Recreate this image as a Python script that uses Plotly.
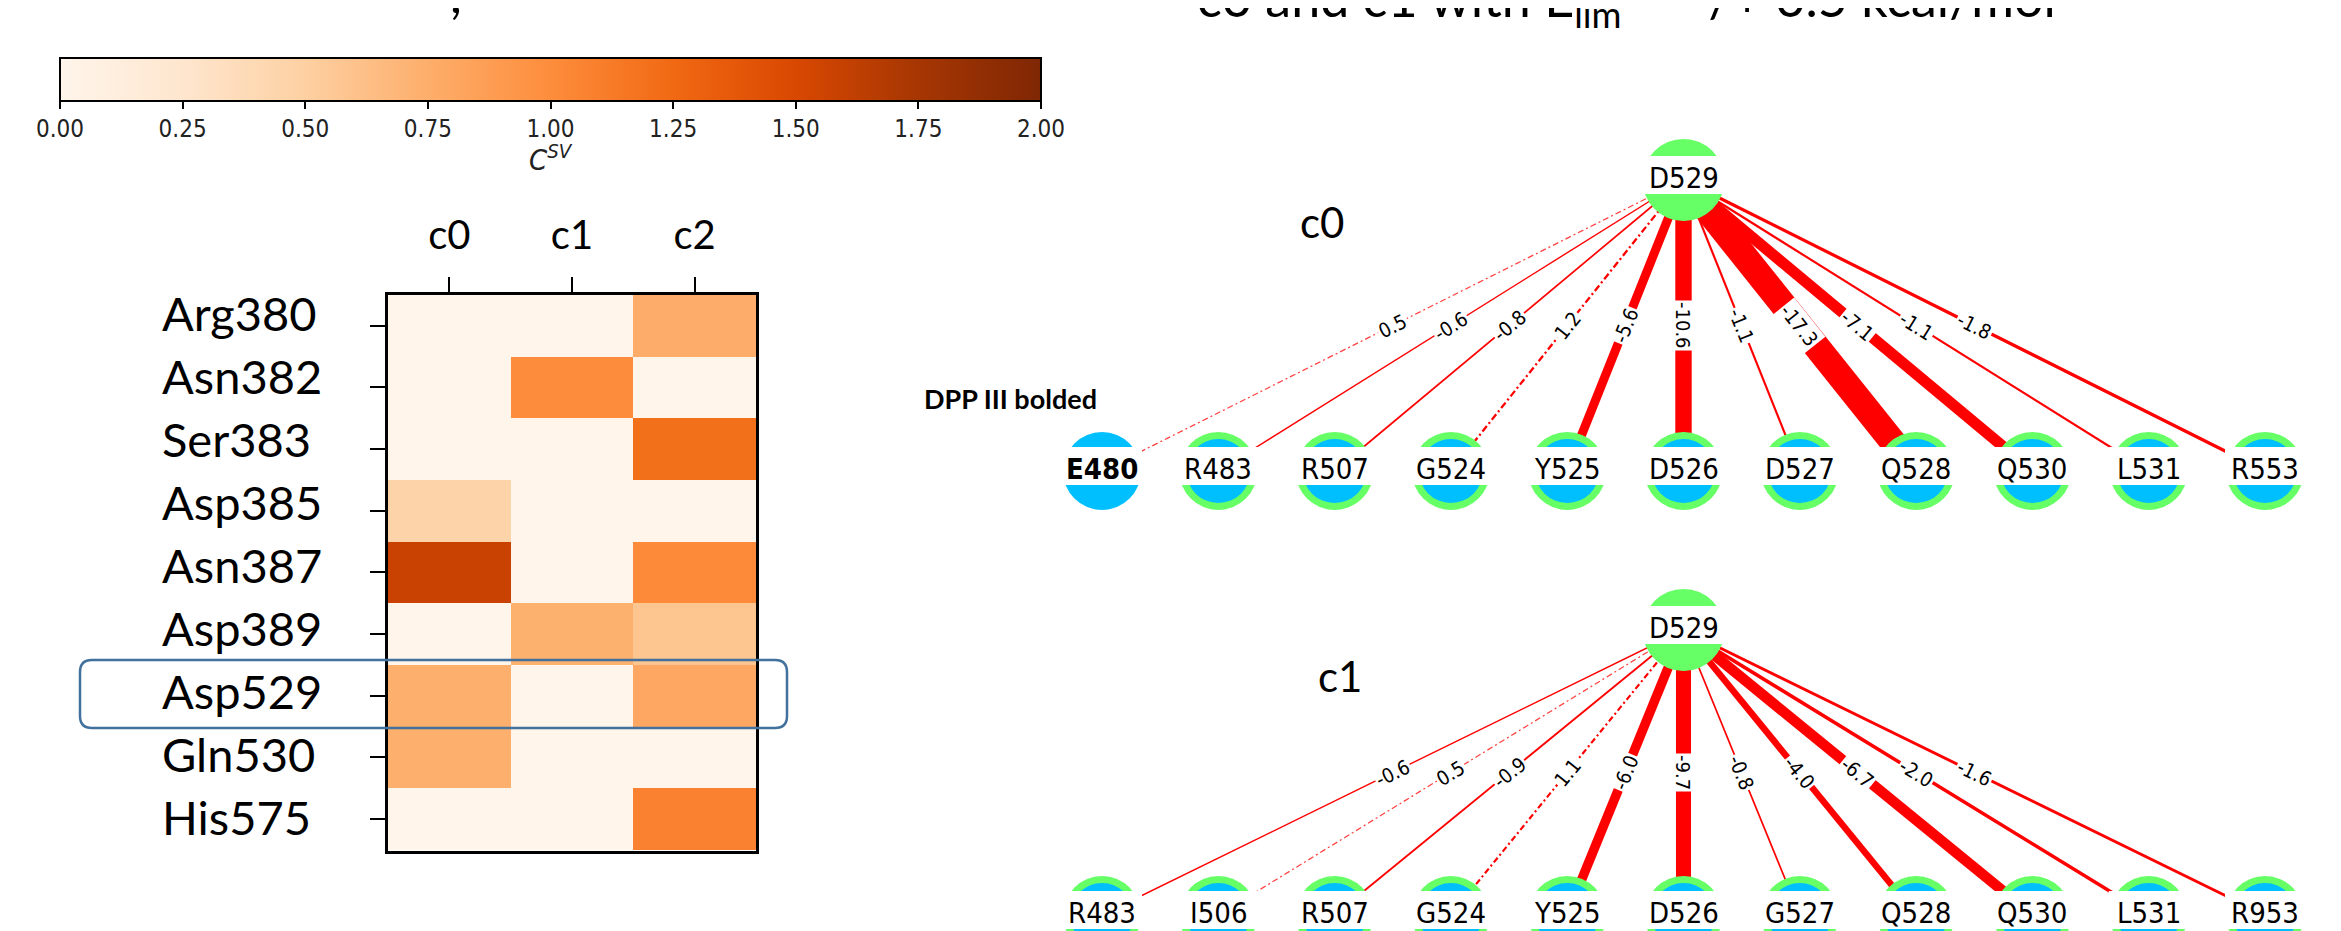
import math
import numpy as np
import plotly.graph_objects as go

W, H = 2341, 931

# ---------------- data ----------------
residues = ["Arg380", "Asn382", "Ser383", "Asp385", "Asn387", "Asp389", "Asp529", "Gln530", "His575"]
clusters = ["c0", "c1", "c2"]
csv_c0 = [0.0, 0.0, 0.0, 0.46, 1.58, 0.0, 0.74, 0.74, 0.0]
csv_c1 = [0.0, 1.0, 0.0, 0.0, 0.0, 0.73, 0.0, 0.0, 0.0]
csv_c2 = [0.76, 0.0, 1.2, 0.0, 1.02, 0.58, 0.80, 0.0, 1.08]

hub = "D529"
c0_partners = ["E480", "R483", "R507", "G524", "Y525", "D526", "D527", "Q528", "Q530", "L531", "R553"]
c0_energy = [0.5, -0.6, -0.8, 1.2, -5.6, -10.6, -1.1, -17.3, -7.1, -1.1, -1.8]
c1_partners = ["R483", "I506", "R507", "G524", "Y525", "D526", "G527", "Q528", "Q530", "L531", "R953"]
c1_energy = [-0.6, 0.5, -0.9, 1.1, -6.0, -9.7, -0.8, -4.0, -6.7, -2.0, -1.6]
dpp3_only = ["E480"]  # drawn bold, blue only

# ---------------- style / layout constants ----------------
NET_FONT = "DejaVu Sans Condensed, Liberation Sans Narrow, DejaVu Sans"
TXT_FONT = "Lato, Open Sans, sans-serif"
GREEN = "#66FF66"
BLUE = "#00BFFF"
NODE_X0_PX, NODE_DX_PX = 1094, 116.3
R_HUB, R_NODE, R_INNER = 41, 39, 32


def px_x(p):
    return p / W


def px_y(p):
    return 1 - p / H


def level_axis(top_px, bot_px, dom_top_px, dom_bot_px):
    scale = bot_px - top_px
    rng = [-(dom_bot_px - bot_px) / scale, 1 + (top_px - dom_top_px) / scale]
    return dict(domain=[px_y(dom_bot_px), px_y(dom_top_px)], range=rng), scale


fig = go.Figure()

# ---------------- heatmap ----------------
z = np.array([csv_c0, csv_c1, csv_c2]).T
cb_left, cb_right, cb_top = 52, 1033, 50
fig.add_trace(go.Heatmap(
    z=z, x=clusters, y=residues, colorscale="Oranges", zmin=0, zmax=2,
    xaxis="x", yaxis="y", hoverinfo="skip",
    colorbar=dict(
        orientation="h", x=px_x((cb_left + cb_right) / 2), xanchor="center",
        y=px_y(cb_top), yanchor="top", len=cb_right - cb_left, lenmode="pixels",
        thickness=43, thicknessmode="pixels", xpad=0, ypad=0,
        outlinewidth=2, outlinecolor="black",
        ticks="outside", ticklen=7, tickwidth=1.5, tickcolor="black",
        tick0=0, dtick=0.25, tickformat=".2f",
        tickfont=dict(family=NET_FONT, size=24, color="#222"),
    ),
))

axis_common = dict(showgrid=False, zeroline=False, showline=True, linecolor="black",
                   linewidth=3, mirror=True, ticks="outside", ticklen=15, tickwidth=2,
                   tickcolor="black")
layout = dict(
    xaxis=dict(domain=[px_x(380), px_x(748)], anchor="y", side="top",
               tickfont=dict(family=TXT_FONT, size=40, color="black"),
               ticklabelstandoff=12, **axis_common),
    yaxis=dict(domain=[px_y(843), px_y(287)], anchor="x", autorange="reversed",
               showticklabels=False, **axis_common),
)

annotations = []
shapes = []

# colour-bar title
annotations.append(dict(xref="paper", yref="paper", x=px_x((cb_left + cb_right) / 2), y=px_y(150),
                        xanchor="center", yanchor="middle",
                        text="<i>C</i><sup><i>SV</i></sup>", showarrow=False,
                        font=dict(family=NET_FONT, size=29, color="#222")))

for i, r in enumerate(residues):
    annotations.append(dict(xref="paper", yref="y", x=px_x(152), y=r, xanchor="left",
                            yanchor="middle", yshift=13 - 1.35 * i,
                            text=r, showarrow=False,
                            font=dict(family=TXT_FONT, size=47, color="black")))

# rounded highlight box around the Asp529 row
bx0, bx1, by0, by1, rr = 72, 779, 652, 720, 12
x0, x1, yt, yb = px_x(bx0), px_x(bx1), px_y(by0), px_y(by1)
rx, ry = rr / W, rr / H
path = (f"M {x0+rx},{yt} L {x1-rx},{yt} Q {x1},{yt} {x1},{yt-ry} L {x1},{yb+ry} "
        f"Q {x1},{yb} {x1-rx},{yb} L {x0+rx},{yb} Q {x0},{yb} {x0},{yb+ry} "
        f"L {x0},{yt-ry} Q {x0},{yt} {x0+rx},{yt} Z")
shapes.append(dict(type="path", xref="paper", yref="paper", path=path,
                   line=dict(color="#41719C", width=2.5), layer="above"))

# ---------------- networks ----------------
net_x_axis = dict(domain=[px_x(NODE_X0_PX - 0.5 * NODE_DX_PX), px_x(NODE_X0_PX + 10.5 * NODE_DX_PX)],
                  range=[-0.5, 10.5], visible=False, showgrid=False, zeroline=False)

panels = [
    ("c0", c0_partners, c0_energy, "x2", "y2", (172, 463, 95, 560), (1314, 214)),
    ("c1", c1_partners, c1_energy, "x3", "y3", (622, 907, 565, 931), (1332, 668)),
]

for name, partners, energy, xa, ya, (top_px, bot_px, dt, db), (lx, ly) in panels:
    yax, scale = level_axis(top_px, bot_px, dt, db)
    layout["xaxis" + xa[1:]] = dict(anchor=ya, **net_x_axis)
    layout["yaxis" + ya[1:]] = dict(anchor=xa, visible=False, showgrid=False, zeroline=False, **yax)
    hub_x = (len(partners) - 1) / 2
    for i, (p, e) in enumerate(zip(partners, energy)):
        w = 1.5 * abs(e) + 0.5
        dash = "solid" if e < 0 else f"{max(6, 3*w):.0f}px,{max(3, w):.0f}px,{max(2, w):.0f}px,{max(3, w):.0f}px"
        fig.add_trace(go.Scatter(x=[hub_x, i], y=[1, 0], mode="lines", xaxis=xa, yaxis=ya,
                                 line=dict(color="#FF0000", width=w, dash=dash),
                                 opacity=0.75 if e > 0 and abs(e) < 1 else 1,
                                 hoverinfo="skip", showlegend=False))
        dxp = (i - hub_x) * NODE_DX_PX
        ang = math.degrees(math.atan2(scale, dxp))
        if ang > 90:
            ang -= 180
        annotations.append(dict(xref=xa, yref=ya, x=(hub_x + i) / 2, y=0.5, text=f"{e:.1f}",
                                textangle=ang, showarrow=False, bgcolor="white", borderpad=1,
                                font=dict(family=NET_FONT, size=20, color="black")))
    nodes = [(hub, hub_x, 1, R_HUB)] + [(p, i, 0, R_NODE) for i, p in enumerate(partners)]
    for label, nx, ny, R in nodes:
        base = dict(xref=xa, yref=ya, xsizemode="pixel", ysizemode="pixel",
                    xanchor=nx, yanchor=ny, layer="above", line=dict(width=0))
        if label == hub:
            shapes.append(dict(type="circle", x0=-R, x1=R, y0=-R, y1=R, fillcolor=GREEN, **base))
        elif label in dpp3_only:
            shapes.append(dict(type="circle", x0=-R, x1=R, y0=-R, y1=R, fillcolor=BLUE, **base))
        else:
            shapes.append(dict(type="circle", x0=-R, x1=R, y0=-R, y1=R, fillcolor=GREEN, **base))
            shapes.append(dict(type="circle", x0=-R_INNER, x1=R_INNER, y0=-R_INNER, y1=R_INNER,
                               fillcolor=BLUE, **base))
        shapes.append(dict(type="rect", x0=-R - 1, x1=R + 1, y0=-14, y1=24, fillcolor="white", **base))
        txt = f"<b>{label}</b>" if label in dpp3_only else label
        annotations.append(dict(xref=xa, yref=ya, x=nx, y=ny, text=txt, showarrow=False, yshift=2,
                                font=dict(family=NET_FONT, size=29, color="black")))
    annotations.append(dict(xref="paper", yref="paper", x=px_x(lx), y=px_y(ly), text=name,
                            xanchor="center", yanchor="middle",
                            showarrow=False, font=dict(family=TXT_FONT, size=42, color="black")))

annotations.append(dict(xref="paper", yref="paper", x=px_x(914), y=px_y(390), xanchor="left",
                        yanchor="middle",
                        text="<b>DPP III bolded</b>", showarrow=False,
                        font=dict(family=TXT_FONT, size=27, color="black")))
# page headings cut off by the top edge (only their lower parts remain visible)
annotations.append(dict(xref="paper", yref="paper", x=px_x(1187), y=px_y(-7), xanchor="left",
                        yanchor="middle",
                        text="c0 and c1 with E<sub>lim</sub> = \u2212/+ 0.5 kcal/mol", showarrow=False,
                        font=dict(family=TXT_FONT, size=52, color="black")))
annotations.append(dict(xref="paper", yref="paper", x=px_x(440), y=px_y(-15), xanchor="left",
                        yanchor="middle", text=",", showarrow=False,
                        font=dict(family=TXT_FONT, size=52, color="black")))

fig.update_layout(
    width=W, height=H, margin=dict(l=0, r=0, t=0, b=0),
    paper_bgcolor="white", plot_bgcolor="white", showlegend=False,
    annotations=annotations, shapes=shapes, **layout,
)

fig.write_html("out.html")
